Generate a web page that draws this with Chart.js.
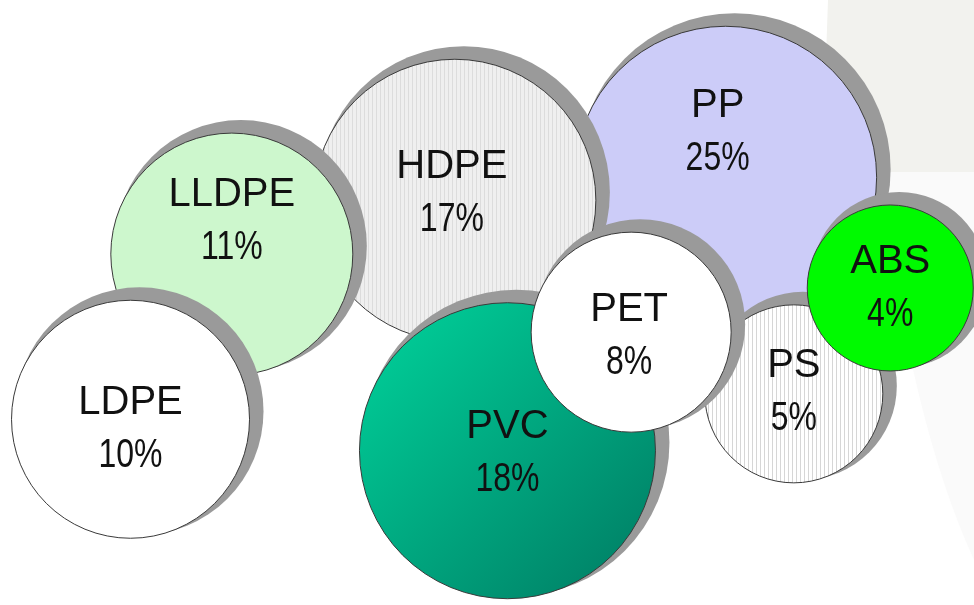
<!DOCTYPE html>
<html>
<head>
<meta charset="utf-8">
<script src="https://cdn.jsdelivr.net/npm/chart.js@4/dist/chart.umd.min.js"></script>
<style>
  html, body { margin: 0; padding: 0; background: #ffffff; }
  #wrap { position: relative; width: 974px; height: 605px; }
</style>
</head>
<body>
<div id="wrap"><canvas id="bubbles"></canvas></div>
<script>
// resin types, bottom of the pile first
const materials = ["PP", "HDPE", "LLDPE", "LDPE", "PVC", "PS", "ABS", "PET"];
const shares = [25, 17, 11, 10, 18, 5, 4, 8];
// bubble centres on a 0-100 grid
const posX = [74.5, 46.7, 23.8, 13.4, 52.1, 81.5, 91.4, 64.8];
const posY = [70.7, 66.9, 58.0, 30.7, 25.5, 34.9, 52.4, 45.1];
const bubbleR = [151, 141, 121, 119, 148, 89, 83, 100];

// styling
const labelShift = [[-8, -45], [-3, -7], [0, -33], [0, 10], [0, 2], [0, -2], [0, 0], [-2, 4]];

function stripes(base, line) {
    const c = document.createElement("canvas");
    c.width = 4;
    c.height = 4;
    const g = c.getContext("2d");
    g.fillStyle = base;
    g.fillRect(0, 0, 4, 4);
    g.fillStyle = line;
    g.fillRect(0, 0, 1, 4);
    return g.createPattern(c, "repeat");
}

function pvcFill(context) {
    const chart = context.chart;
    const raw = context.raw;
    if (!chart.chartArea || !raw) return "#00b386";
    const x = chart.scales.x.getPixelForValue(raw.x);
    const y = chart.scales.y.getPixelForValue(raw.y);
    const g = chart.ctx.createLinearGradient(x - raw.r, y - raw.r, x + raw.r, y + raw.r);
    g.addColorStop(0, "#00d49c");
    g.addColorStop(1, "#007a62");
    return g;
}

const fills = [
    "#ccccf8",
    stripes("#efefef", "#dcdcdc"),
    "#cdf7cd",
    "#ffffff",
    pvcFill,
    stripes("#ffffff", "#d6d6d6"),
    "#00fa00",
    "#ffffff",
];

const datasets = materials.map((m, i) => ({
    label: m,
    data: [{ x: posX[i], y: posY[i], r: bubbleR[i] }],
    backgroundColor: fills[i],
    hoverBackgroundColor: fills[i],
    borderColor: "#3a3a3a",
    hoverBorderColor: "#3a3a3a",
    borderWidth: 1,
    hoverBorderWidth: 1,
    hoverRadius: 0,
    order: materials.length - i,
    clip: false,
}));

const backdrop = {
    id: "backdrop",
    beforeDraw(chart) {
        const c = chart.ctx;
        c.save();
        c.fillStyle = "#ffffff";
        c.fillRect(0, 0, chart.width, chart.height);
        c.fillStyle = "#fafafa";
        c.beginPath();
        c.moveTo(880, 172);
        c.lineTo(974, 172);
        c.lineTo(974, 560);
        c.quadraticCurveTo(910, 420, 880, 172);
        c.fill();
        c.fillStyle = "#f2f2ee";
        c.beginPath();
        c.moveTo(828, 0);
        c.lineTo(974, 0);
        c.lineTo(974, 172);
        c.lineTo(822, 172);
        c.closePath();
        c.fill();
        c.restore();
    },
};

const bubbleShadow = {
    id: "bubbleShadow",
    beforeDatasetDraw(chart, args) {
        const c = chart.ctx;
        c.save();
        c.fillStyle = "#9a9a9a";
        args.meta.data.forEach((el) => {
            c.beginPath();
            c.arc(el.x + 9, el.y - 8, el.options.radius + 5, 0, Math.PI * 2);
            c.fill();
        });
        c.restore();
    },
    afterDatasetDraw(chart, args) {
        const i = args.index;
        const c = chart.ctx;
        c.save();
        c.fillStyle = "#111111";
        c.textAlign = "center";
        c.textBaseline = "middle";
        c.font = '40px "Liberation Sans", Arial, sans-serif';
        args.meta.data.forEach((el) => {
            const tx = el.x + labelShift[i][0];
            const ty = el.y + labelShift[i][1];
            c.fillText(materials[i], tx, ty - 26);
            c.save();
            c.translate(tx, ty + 27);
            c.scale(0.8, 1);
            c.fillText(shares[i] + "%", 0, 0);
            c.restore();
        });
        c.restore();
    },
};

new Chart(document.getElementById("bubbles").getContext("2d"), {
    type: "bubble",
    data: { datasets: datasets },
    options: {
        responsive: true,
        maintainAspectRatio: false,
        animation: false,
        events: [],
        layout: { padding: 0, autoPadding: false },
        plugins: {
            legend: { display: false },
            tooltip: { enabled: false },
        },
        scales: {
            x: { type: "linear", min: 0, max: 100, display: false },
            y: { type: "linear", min: 0, max: 100, display: false },
        },
    },
    plugins: [backdrop, bubbleShadow],
});
</script>
</body>
</html>
